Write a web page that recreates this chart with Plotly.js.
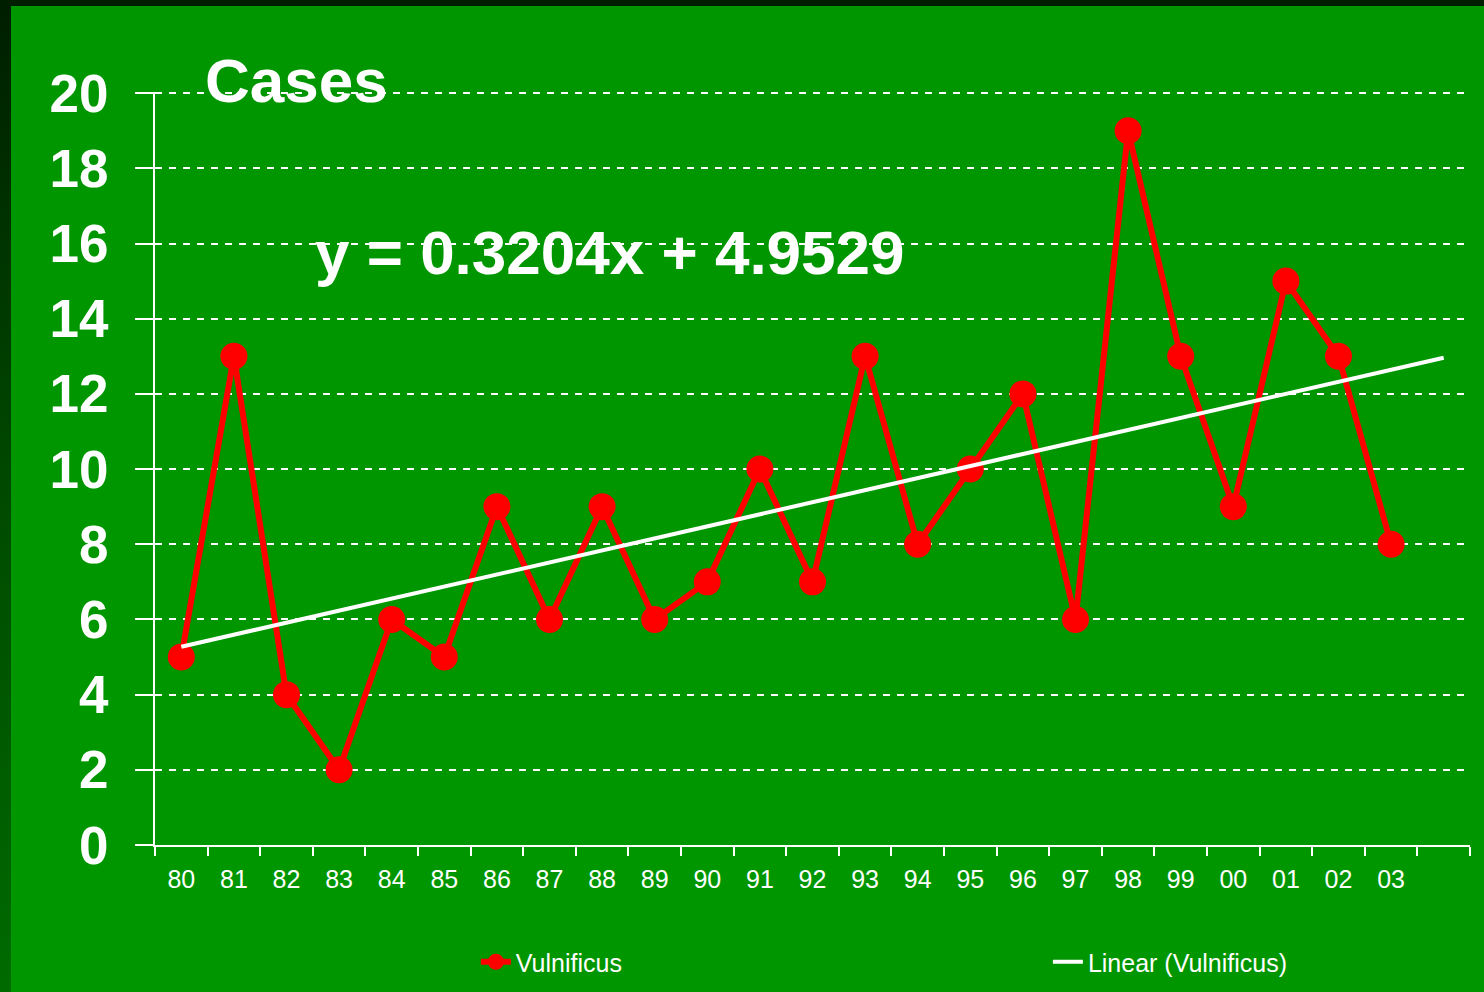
<!DOCTYPE html>
<html>
<head>
<meta charset="utf-8">
<script src="https://cdn.plot.ly/plotly-3.0.1.min.js"></script>
<style>
  html, body { margin: 0; padding: 0; width: 1484px; height: 992px; overflow: hidden; }
  body { background: linear-gradient(to bottom, #001e00 0%, #004a00 50%, #006b00 100%); position: relative; }
  #top { position: absolute; left: 0; top: 0; width: 1484px; height: 6px; background: #001e00; }
  #chart { position: absolute; left: 11px; top: 6px; width: 1473px; height: 986px; }
</style>
</head>
<body>
<div id="top"></div>
<div id="chart"></div>
<script>
// ---- data ----
const years = ["80","81","82","83","84","85","86","87","88","89","90","91","92","93","94","95","96","97","98","99","00","01","02","03"];
const cases = [5,13,4,2,6,5,9,6,9,6,7,10,7,13,8,10,12,6,19,13,9,15,13,8];
const yTicks = [0,2,4,6,8,10,12,14,16,18,20];
// trendline coefficients as printed on the chart (x = 1 for the first year)
const SLOPE = 0.3204;
const INTERCEPT = 4.9529;
const FORWARD_PERIODS = 1;
const equationText = "y = 0.3204x + 4.9529";

const idx = years.map((_, i) => i);
const trendX = [0, years.length - 1 + FORWARD_PERIODS];
const trendY = trendX.map(i => SLOPE * (i + 1) + INTERCEPT);

const FONT = "'Liberation Sans', Arial, sans-serif";

const traces = [
  {
    x: idx, y: cases, type: "scatter", mode: "lines+markers", name: "Vulnificus",
    line: { color: "#ff0000", width: 6 },
    marker: { color: "#ff0000", size: 27 },
    legend: "legend",
    hoverinfo: "skip"
  },
  {
    x: trendX, y: trendY, type: "scatter", mode: "lines", name: "Linear (Vulnificus)",
    line: { color: "#ffffff", width: 4 },
    legend: "legend2",
    hoverinfo: "skip"
  }
];

const legendCommon = {
  orientation: "h",
  xanchor: "left",
  yref: "container",
  y: 1 - 956 / 986, yanchor: "middle",
  font: { family: FONT, size: 25, color: "#ffffff" },
  bgcolor: "rgba(0,0,0,0)"
};

const layout = {
  width: 1473, height: 986,
  paper_bgcolor: "#009600", plot_bgcolor: "#009600",
  margin: { l: 144, r: 14, t: 86, b: 147 },
  showlegend: true,
  title: {
    text: "Cases",
    font: { family: FONT, size: 62, color: "#ffffff", weight: "bold" },
    x: 194 / 1473, xanchor: "left", xref: "container",
    y: 1 - 74 / 986, yanchor: "middle", yref: "container"
  },
  xaxis: {
    range: [-0.5, years.length + FORWARD_PERIODS - 0.5],
    tickmode: "array", tickvals: idx, ticktext: years,
    ticks: "", ticklabelstandoff: 11,
    tickfont: { family: FONT, size: 25, color: "#ffffff" },
    showline: true, linecolor: "#ffffff", linewidth: 2,
    showgrid: false, zeroline: false,
    minor: { tick0: 0.5, dtick: 1, ticks: "outside", ticklen: 9, tickwidth: 2, tickcolor: "#ffffff", showgrid: false },
    fixedrange: true
  },
  yaxis: {
    range: [0, 20.03],
    tickmode: "array", tickvals: yTicks,
    ticks: "outside", ticklen: 18, tickwidth: 2, tickcolor: "#ffffff",
    ticklabelstandoff: 16,
    tickfont: { family: FONT, size: 53, color: "#ffffff", weight: "bold" },
    showline: true, linecolor: "#ffffff", linewidth: 2,
    showgrid: true, gridcolor: "#ffffff", gridwidth: 2, griddash: "7px,7px",
    zeroline: false,
    fixedrange: true
  },
  legend: Object.assign({}, legendCommon, { x: 0.244 }),
  legend2: Object.assign({}, legendCommon, { x: 0.679 }),
  annotations: [
    {
      text: equationText, xref: "paper", yref: "y",
      x: (610 - 155) / 1315, y: 15.75, xanchor: "center", yanchor: "middle",
      showarrow: false,
      font: { family: FONT, size: 62, color: "#ffffff", weight: "bold" }
    }
  ]
};

Plotly.newPlot("chart", traces, layout, { staticPlot: true, displayModeBar: false });
</script>
</body>
</html>
